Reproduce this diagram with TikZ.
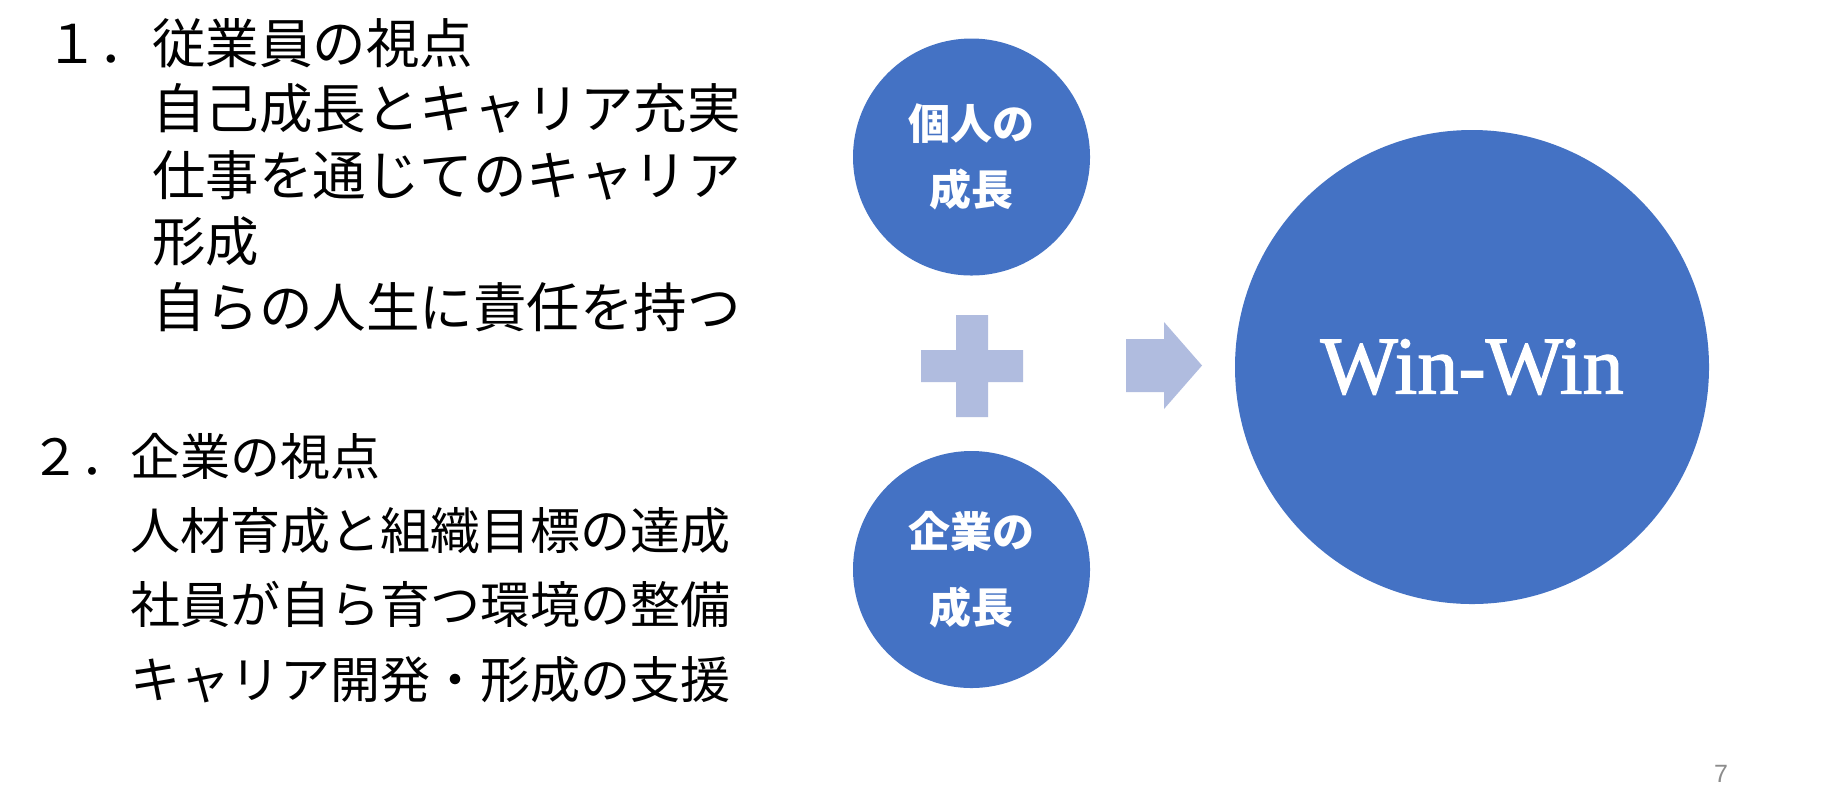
\documentclass[tikz,border=0pt]{standalone}
\usepackage{fontspec}
\setmainfont{Liberation Serif}
\newfontfamily\jpfont{Noto Sans CJK JP}
\newfontfamily\winfont[FakeBold=1.5]{Liberation Serif}
\newfontfamily\pagefont{Liberation Sans}
\usepackage{xcolor}
\definecolor{winblue}{HTML}{4472C4}
\definecolor{paleblue}{HTML}{B0BCDF}
\definecolor{pagegray}{HTML}{8C8C8C}

\begin{document}
\begin{tikzpicture}[x=0.5pt,y=-0.5pt,
                pointA/.style={anchor=base west,inner sep=0pt,
                    font=\jpfont\fontsize{26.75}{32}\selectfont},
                pointB/.style={anchor=base west,inner sep=0pt,
                    font=\jpfont\fontsize{25}{30}\selectfont},
                growth/.style={circle,fill=winblue,
                    minimum size=118.5pt,inner sep=0pt,
                    text=white,align=center},
                sign/.style={fill=paleblue}]
                \fill[white] (0,0) rectangle (1823,805);
                \useasboundingbox (0,0) rectangle (1823,805);
                % employee side
                \node[pointA](e1) at (45,63) {１．従業員の視点};
                \node[pointA](e2) at (152,128) {自己成長とキャリア充実};
                \node[pointA](e3) at (152,195) {仕事を通じてのキャリア};
                \node[pointA](e4) at (152,261) {形成};
                \node[pointA](e5) at (152,327) {自らの人生に責任を持つ};
                % company side
                \node[pointB](c1) at (30,475) {２．企業の視点};
                \node[pointB](c2) at (130,549) {人材育成と組織目標の達成};
                \node[pointB](c3) at (130,623) {社員が自ら育つ環境の整備};
                \node[pointB](c4) at (130,698) {キャリア開発・形成の支援};
                % circles
                \node[growth,font=\jpfont\bfseries\fontsize{21}{33}\selectfont](self) at (971.5,157) {個人の\\成長};
                \node[growth,font=\jpfont\bfseries\fontsize{21}{38}\selectfont](firm) at (971.5,569.5) {企業の\\成長};
                \node[circle,fill=winblue,minimum size=237pt,inner sep=0pt,
                    text=white,font=\winfont\fontsize{41}{41}\selectfont](win) at (1472,367) {Win-Win};
                % plus and arrow
                \fill[sign] (956,315) -- (988,315) -- (988,350) -- (1023,350)
                    -- (1023,382) -- (988,382) -- (988,417) -- (956,417)
                    -- (956,382) -- (921,382) -- (921,350) -- (956,350) -- cycle;
                \fill[sign] (1126,339) -- (1164,339) -- (1164,322) -- (1202,365.5)
                    -- (1164,409) -- (1164,392) -- (1126,392) -- cycle;
                \node[font=\pagefont\fontsize{12.5}{12.5}\selectfont,text=pagegray,inner sep=0pt](page) at (1721,774) {7};
            \end{tikzpicture}
\end{document}
